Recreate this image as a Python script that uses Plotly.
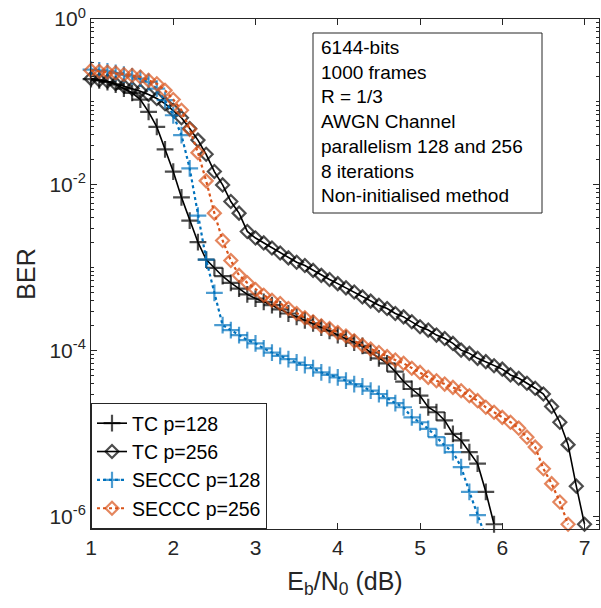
import plotly.graph_objects as go

# Eb/N0 grid (dB)
snr = [1.0, 1.1, 1.2, 1.3, 1.4, 1.5, 1.6, 1.7, 1.8, 1.9,
       2.0, 2.1, 2.2, 2.3, 2.4, 2.5, 2.6, 2.7, 2.8, 2.9,
       3.0, 3.1, 3.2, 3.3, 3.4, 3.5, 3.6, 3.7, 3.8, 3.9,
       4.0, 4.1, 4.2, 4.3, 4.4, 4.5, 4.6, 4.7, 4.8, 4.9,
       5.0, 5.1, 5.2, 5.3, 5.4, 5.5, 5.6, 5.7, 5.8, 5.9,
       6.0, 6.1, 6.2, 6.3, 6.4, 6.5, 6.6, 6.7, 6.8, 6.9, 7.0]

ber_tc128 = [1.88e-1, 1.82e-1, 1.74e-1, 1.62e-1, 1.45e-1, 1.29e-1, 1.07e-1, 7.59e-2, 5.01e-2, 2.69e-2,
             1.45e-2, 7.08e-3, 3.72e-3, 2.04e-3, 1.26e-3, 1.00e-3, 7.94e-4, 6.61e-4, 5.62e-4, 4.79e-4,
             4.27e-4, 3.89e-4, 3.55e-4, 3.16e-4, 2.82e-4, 2.57e-4, 2.34e-4, 2.14e-4, 1.91e-4, 1.74e-4,
             1.55e-4, 1.41e-4, 1.26e-4, 1.15e-4, 9.55e-5, 8.13e-5, 7.08e-5, 5.62e-5, 4.27e-5, 3.47e-5,
             2.88e-5, 2.09e-5, 1.82e-5, 1.45e-5, 1.00e-5, 8.32e-6, 6.03e-6, 4.37e-6, 2.00e-6, 8.13e-7]

ber_tc256 = [1.91e-1, 1.84e-1, 1.78e-1, 1.66e-1, 1.55e-1, 1.45e-1, 1.35e-1, 1.23e-1, 1.10e-1, 9.55e-2,
             7.94e-2, 6.46e-2, 4.79e-2, 3.47e-2, 2.34e-2, 1.45e-2, 1.00e-2, 6.31e-3, 4.57e-3, 2.75e-3,
             2.29e-3, 2.00e-3, 1.74e-3, 1.51e-3, 1.32e-3, 1.17e-3, 1.07e-3, 9.33e-4, 8.13e-4, 7.24e-4,
             6.46e-4, 5.75e-4, 5.13e-4, 4.47e-4, 3.98e-4, 3.55e-4, 3.24e-4, 2.82e-4, 2.57e-4, 2.24e-4,
             1.95e-4, 1.78e-4, 1.55e-4, 1.41e-4, 1.23e-4, 1.02e-4, 9.33e-5, 8.13e-5, 7.41e-5, 6.61e-5,
             6.03e-5, 5.13e-5, 4.68e-5, 4.07e-5, 3.55e-5, 3.02e-5, 2.14e-5, 1.38e-5, 7.41e-6, 2.34e-6,
             8.13e-7]

ber_seccc128 = [2.45e-1, 2.40e-1, 2.34e-1, 2.24e-1, 2.14e-1, 2.04e-1, 1.91e-1, 1.74e-1, 1.45e-1, 1.05e-1,
                6.92e-2, 3.98e-2, 1.58e-2, 4.27e-3, 1.26e-3, 5.01e-4, 2.04e-4, 1.78e-4, 1.55e-4, 1.35e-4,
                1.23e-4, 1.07e-4, 9.55e-5, 8.71e-5, 7.94e-5, 7.24e-5, 6.76e-5, 6.17e-5, 5.50e-5, 5.13e-5,
                4.79e-5, 4.37e-5, 3.98e-5, 3.72e-5, 3.31e-5, 3.02e-5, 2.69e-5, 2.34e-5, 2.09e-5, 1.58e-5,
                1.38e-5, 1.15e-5, 9.12e-6, 7.24e-6, 6.03e-6, 3.98e-6, 2.00e-6, 1.05e-6, 5.62e-7]

ber_seccc256 = [2.40e-1, 2.34e-1, 2.29e-1, 2.24e-1, 2.14e-1, 2.09e-1, 2.00e-1, 1.82e-1, 1.66e-1, 1.38e-1,
                1.07e-1, 7.94e-2, 4.68e-2, 2.45e-2, 1.12e-2, 4.57e-3, 2.14e-3, 1.23e-3, 8.13e-4, 6.61e-4,
                5.50e-4, 4.68e-4, 4.07e-4, 3.72e-4, 3.24e-4, 2.82e-4, 2.51e-4, 2.24e-4, 2.00e-4, 1.86e-4,
                1.66e-4, 1.51e-4, 1.32e-4, 1.17e-4, 1.05e-4, 9.55e-5, 8.51e-5, 7.76e-5, 7.08e-5, 6.17e-5,
                5.50e-5, 4.79e-5, 4.37e-5, 3.98e-5, 3.63e-5, 3.31e-5, 2.88e-5, 2.51e-5, 2.09e-5, 1.82e-5,
                1.58e-5, 1.38e-5, 1.17e-5, 9.12e-6, 6.92e-6, 3.80e-6, 2.51e-6, 1.51e-6, 8.13e-7]

series_names = ["TC p=128", "TC p=256", "SECCC p=128", "SECCC p=256"]

x_ticks = [1, 2, 3, 4, 5, 6, 7]
y_tickvals = [1, 1e-2, 1e-4, 1e-6]
y_ticktext = ["10<sup>0</sup>", "10<sup>-2</sup>", "10<sup>-4</sup>", "10<sup>-6</sup>"]

info_lines = ["6144-bits", "1000 frames", "R = 1/3", "AWGN Channel",
              "parallelism 128 and 256", "8 iterations", "Non-initialised method"]

# ---- styling ----
FONT = "Liberation Sans, Arial, Helvetica, sans-serif"
AX = "#262626"
BLUE = "#0072BD"
ORANGE = "#D95319"
Y_LOG_MIN = -6.147
Y_MIN = 10 ** Y_LOG_MIN

styles = [
    dict(color="black", dash="solid", symbol="cross-thin-open", size=12, lw=1.6),
    dict(color="black", dash="solid", symbol="diamond-open", size=10, lw=1.6),
    dict(color=BLUE, dash="dot", symbol="cross-thin-open", size=12, lw=2.2),
    dict(color=ORANGE, dash="dot", symbol="diamond-open", size=10, lw=2.2),
]
data = [ber_tc128, ber_tc256, ber_seccc128, ber_seccc256]

fig = go.Figure()
for name, ber, st in zip(series_names, data, styles):
    xs = snr[:len(ber)]
    sizes = [0 if v < Y_MIN else st["size"] for v in ber]
    fig.add_trace(go.Scatter(
        x=xs, y=ber, name=name, mode="lines+markers",
        cliponaxis=False,
        line=dict(color=st["color"], width=st["lw"], dash=st["dash"]),
        marker=dict(symbol=st["symbol"], size=sizes, color=st["color"],
                    line=dict(color=st["color"], width=2.2)),
    ))

minor_vals = [k * 10.0 ** d for d in range(-7, 0) for k in range(1, 10)
              if not (k == 1 and d % 2 == 0)]

L, R, T, B = 91, 2, 19, 79
W, H = 601 - L - R, 608 - T - B

fig.update_layout(
    width=601, height=608,
    margin=dict(l=L, r=R, t=T, b=B, pad=0),
    paper_bgcolor="white", plot_bgcolor="white",
    font=dict(family=FONT, color=AX),
    showlegend=True,
    legend=dict(x=0, y=0, xanchor="left", yanchor="bottom",
                bgcolor="white", bordercolor=AX, borderwidth=1,
                font=dict(size=19.5, color="black", family=FONT),
                tracegroupgap=0, itemwidth=30),
    xaxis=dict(
        range=[1, 7.176], tickmode="array", tickvals=x_ticks,
        ticks="inside", ticklen=6, tickwidth=1, tickcolor=AX,
        showline=True, linecolor=AX, linewidth=1, mirror="ticks",
        showgrid=False, zeroline=False,
        tickfont=dict(size=21, color=AX, family=FONT),
        title=dict(text="E<sub>b</sub>/N<sub>0</sub> (dB)",
                   font=dict(size=25, color=AX, family=FONT), standoff=14),
    ),
    yaxis=dict(
        type="log", range=[Y_LOG_MIN, 0],
        tickmode="array", tickvals=y_tickvals, ticktext=y_ticktext,
        ticks="inside", ticklen=6, tickwidth=1, tickcolor=AX,
        showline=True, linecolor=AX, linewidth=1, mirror="ticks",
        showgrid=False, zeroline=False,
        tickfont=dict(size=21, color=AX, family=FONT),
        minor=dict(tickmode="array", tickvals=minor_vals, ticks="inside",
                   ticklen=3, tickwidth=1, tickcolor=AX, showgrid=False),
        title=dict(text="BER", font=dict(size=25, color=AX, family=FONT), standoff=6),
    ),
)

# info box
bx0, bx1, by0, by1 = 313, 542, 33, 213
fig.add_shape(type="rect", xref="paper", yref="paper",
              x0=(bx0 - L) / W, x1=(bx1 - L) / W,
              y0=(T + H - by1) / H, y1=(T + H - by0) / H,
              line=dict(color=AX, width=1), fillcolor="white", layer="above")
fig.add_annotation(xref="paper", yref="paper",
                   x=(321 - L) / W, y=(T + H - 37.5) / H,
                   xanchor="left", yanchor="top", align="left",
                   text="<br>".join(info_lines), showarrow=False,
                   borderpad=0, borderwidth=0,
                   font=dict(size=19, color="black", family=FONT))

fig.write_html("out.html")
